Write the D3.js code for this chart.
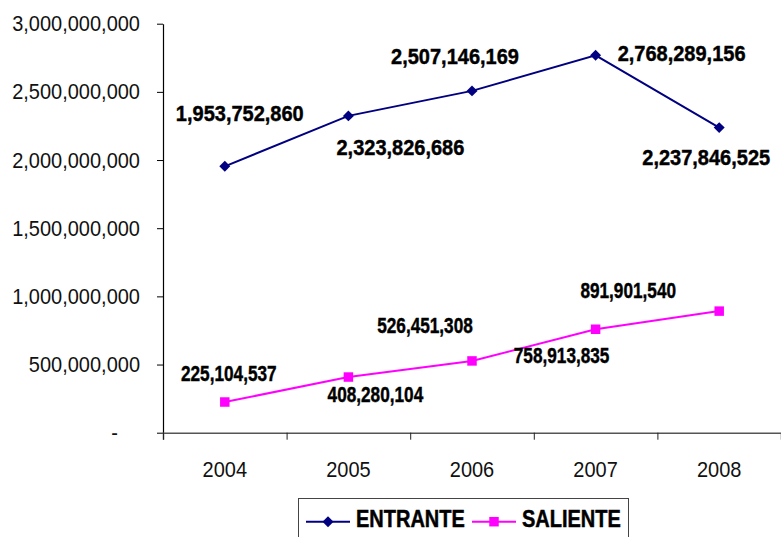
<!DOCTYPE html>
<html>
<head>
<meta charset="utf-8">
<script src="https://cdn.jsdelivr.net/npm/d3@7"></script>
<style>
  html, body { margin: 0; padding: 0; background: #fff; }
  svg { display: block; font-family: "Liberation Sans", Arial, sans-serif; }
</style>
</head>
<body>
<script>
const years = ["2004", "2005", "2006", "2007", "2008"]
const entrante = [1953752860, 2323826686, 2507146169, 2768289156, 2237846525]
const saliente = [225104537, 408280104, 526451308, 758913835, 891901540]
const yTicks = [0, 500000000, 1000000000, 1500000000, 2000000000, 2500000000, 3000000000]
const seriesNames = ["ENTRANTE", "SALIENTE"]

// hand-placed label offsets (dx, baseline dy) like the original
const entranteLabelPos = [[15, -45], [52, 39], [-17, -27], [86, 6], [-13, 37]]
const salienteLabelPos = [[4, -21], [27, 25], [-47, -28], [-34, 34], [-91, -13]]

const width = 781
const height = 537
const plotLeft = 163, plotRight = 781, plotTop = 23.7, plotBottom = 432.7

const svg = d3.select('body').append('svg')
    .attr('width', width)
    .attr('height', height)

const x = d3.scaleBand().domain(years).range([plotLeft, plotRight]).padding(0)
const xEdge = d3.scaleLinear().domain([0, years.length]).range([plotLeft, plotRight])
const y = d3.scaleLinear().domain([0, 3000000000]).range([plotBottom, plotTop])
const fmt = d3.format(",")

// y axis
const yAxis = svg.append('g')
    .attr('transform', `translate(${plotLeft},0)`)
    .call(d3.axisLeft(y).tickValues(yTicks).tickSize(6).tickSizeOuter(0)
        .tickFormat(d => d === 0 ? "-" : fmt(d)))
yAxis.select('.domain').attr('stroke', '#000').attr('stroke-width', 1.2)
yAxis.selectAll('.tick line').attr('stroke', '#000')
yAxis.selectAll('.tick text')
    .attr('x', 0)
    .attr('font-size', 20)
    .attr('fill', '#111')
    .attr('font-family', '"Liberation Sans", Arial, sans-serif')
    .attr('transform', d => `translate(${d === 0 ? -45 : -23},0) scale(1,1.1)`)

// x axis: boundary ticks + centred year labels
const xAxis = svg.append('g')
    .attr('transform', `translate(0,${plotBottom})`)
    .call(d3.axisBottom(xEdge).tickValues(d3.range(years.length + 1)).tickSize(7).tickFormat(''))
xAxis.select('.domain').attr('stroke', '#555').attr('stroke-width', 1.5)
xAxis.selectAll('.tick line').attr('stroke', '#222')

const xLab = svg.append('g')
    .attr('transform', `translate(0,${plotBottom})`)
    .call(d3.axisBottom(x).tickSize(0))
xLab.select('.domain').remove()
xLab.selectAll('.tick text')
    .attr('y', 0).attr('dy', 0)
    .attr('font-size', 20)
    .attr('fill', '#111')
    .attr('font-family', '"Liberation Sans", Arial, sans-serif')
    .attr('transform', 'translate(0,44) scale(1,1.06)')

const cx = d => x(d) + x.bandwidth() / 2

const line = d3.line()
    .x((d, i) => cx(years[i]))
    .y(d => y(d))

// excel-style diamond = square turned 45 degrees
const diamond = d3.symbol().type(d3.symbolSquare).size(60)
const square = d3.symbol().type(d3.symbolSquare).size(90)

const series = [
    {name: seriesNames[0], values: entrante, color: '#000080', sym: diamond, rot: 45, pos: entranteLabelPos, fs: 20, sx: 1, sy: 1.1},
    {name: seriesNames[1], values: saliente, color: '#FF00FF', sym: square, rot: 0, pos: salienteLabelPos, fs: 20, sx: 0.86, sy: 1.06}
]

series.forEach(s => {
    svg.append('path')
        .datum(s.values)
        .attr('d', line)
        .attr('fill', 'none')
        .attr('stroke', s.color)
        .attr('stroke-width', 2)

    svg.append('g').selectAll('path')
        .data(s.values)
        .enter()
        .append('path')
        .attr('d', s.sym)
        .attr('fill', s.color)
        .attr('transform', (d, i) => `translate(${cx(years[i])},${y(d)}) rotate(${s.rot})`)

    svg.append('g').selectAll('text')
        .data(s.values)
        .enter()
        .append('text')
        .attr('text-anchor', 'middle')
        .attr('font-weight', 'bold')
        .attr('font-size', s.fs)
        .attr('fill', '#000')
        .attr('stroke', '#000')
        .attr('stroke-width', 0.4)
        .attr('transform', (d, i) => `translate(${cx(years[i]) + s.pos[i][0]},${y(d) + s.pos[i][1]}) scale(${s.sx},${s.sy})`)
        .text(d => fmt(d))
})

// legend
const legend = svg.append('g')
legend.append('rect')
    .attr('x', 298.5).attr('y', 498.5)
    .attr('width', 330).attr('height', 60)
    .attr('fill', '#fff')
    .attr('stroke', '#444')
    .attr('stroke-width', 1)

const legendItems = [
    {name: seriesNames[0], color: '#000080', sym: diamond, rot: 45, x0: 306},
    {name: seriesNames[1], color: '#FF00FF', sym: square, rot: 0, x0: 472}
]
legendItems.forEach(it => {
    const g = legend.append('g').attr('transform', `translate(${it.x0},521.7)`)
    g.append('line').attr('x1', 0).attr('x2', 44)
        .attr('stroke', it.color).attr('stroke-width', 2)
    g.append('path').attr('d', it.sym).attr('fill', it.color)
        .attr('transform', `translate(22,0) rotate(${it.rot})`)
    g.append('text')
        .attr('transform', 'translate(50,5) scale(1,1.22)')
        .attr('font-weight', 'bold')
        .attr('font-size', 20)
        .attr('fill', '#000')
        .attr('stroke', '#000')
        .attr('stroke-width', 0.4)
        .text(it.name)
})
</script>
</body>
</html>
